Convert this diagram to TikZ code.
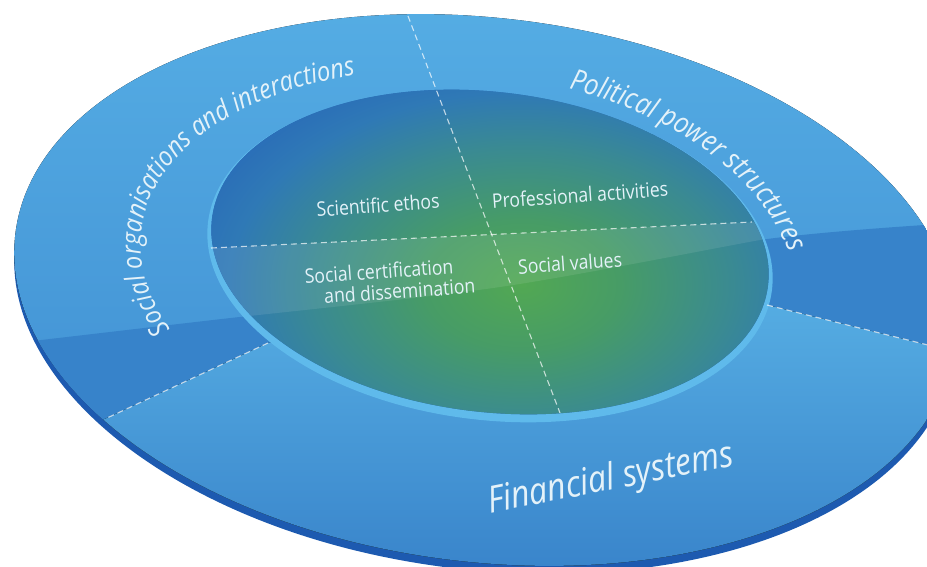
\documentclass[tikz,border=0pt]{standalone}
\usepackage{fontspec}
\setmainfont[FakeStretch=0.88]{Open Sans}
\usetikzlibrary{decorations.text}
\definecolor{rimblue}{HTML}{1D5AB0}
\definecolor{ringtop}{HTML}{55ADE4}
\definecolor{ringbot}{HTML}{3C89CF}
\definecolor{ringdark}{HTML}{3783CA}
\definecolor{fintop}{HTML}{55ACE2}
\definecolor{finbot}{HTML}{3680C8}
\definecolor{lightring}{HTML}{5FBAEB}
\definecolor{discgreen}{HTML}{52A853}
\definecolor{discgreen2}{HTML}{479C66}
\definecolor{discteal}{HTML}{3A8A92}
\definecolor{discblue2}{HTML}{2F79B6}
\definecolor{discblue}{HTML}{2A6DB8}
\definecolor{labeltext}{HTML}{E4F2F9}
\pgfdeclareradialshading{discshade}{\pgfpoint{0bp}{0bp}}{color(0bp)=(discgreen); color(7bp)=(discgreen2); color(15bp)=(discteal); color(21bp)=(discblue2); color(25bp)=(discblue); color(50bp)=(discblue)}
\begin{document}
\begin{tikzpicture}[x=1pt,y=1pt,
  dashline/.style={draw=white, draw opacity=0.7, line width=1.1pt, dash pattern=on 6pt off 4pt},
  innerlabel/.style={text=labeltext, font=\fontsize{20}{21}\selectfont, inner sep=0pt},
  finlabel/.style={text=labeltext, font=\itshape\fontsize{37}{40}\selectfont, inner sep=0pt}]
\clip (0,0) rectangle (927,-566);
\useasboundingbox (0,0) rectangle (927,-566);
% rim of the disc
\fill[rimblue, rotate around={-6.8:(485,-298)}] (485,-298) ellipse [x radius=473, y radius=272];
% outer ring surface
\begin{scope}
  \clip[rotate around={-6.8:(485,-290)}] (485,-290) ellipse [x radius=473, y radius=272];
  \fill[top color=ringtop, bottom color=ringbot] (0,0) rectangle (927,-566);
  \fill[ringdark] plot[smooth] coordinates {(-10,-346) (213,-320) (500,-287) (760,-240) (940,-224)} -- (940,-600) -- (-10,-600) -- cycle;
  \fill[top color=fintop, bottom color=finbot] (268,-343) -- (-50,-491) -- (-50,-600) -- (1000,-600) -- (1000,-363) -- (767,-305) -- cycle;
\end{scope}
% light wall round the inner disc
\fill[lightring, rotate around={-6.8:(490,-256)}] (490,-256) ellipse [x radius=284, y radius=164];
% inner disc
\begin{scope}
  \clip[rotate around={-6.8:(490,-252)}] (490,-252) ellipse [x radius=280, y radius=160];
  \fill[discblue] (200,-80) rectangle (780,-430);
  \shade[shading=discshade] (522,-285) ellipse [x radius=350, y radius=230];
  \fill[white, opacity=0.09] (150,-251) -- (800,-220) -- plot[smooth] coordinates {(800,-234) (760,-240) (500,-287) (213,-320) (150,-328)} -- cycle;
\end{scope}
% dividers
\coordinate (vtop) at (408,-16);
\coordinate (vbot) at (560,-413);
\coordinate (hl) at (211,-248);
\coordinate (hr) at (752,-222);
\coordinate (bl1) at (268,-343);
\coordinate (bl2) at (107,-418);
\coordinate (br1) at (767,-305);
\coordinate (br2) at (940,-348);
\draw[dashline] (vtop) -- (vbot);
\draw[dashline] (hl) -- (hr);
\draw[dashline] (bl1) -- (bl2);
\draw[dashline] (br1) -- (br2);
% inner labels
\node[innerlabel, rotate=4] (sci) at (378,-205) {Scientific ethos};
\node[innerlabel, rotate=4] (prof) at (580,-195) {Professional activities};
\node[innerlabel, rotate=4, align=left] (cert) at (390,-281) {Social certification\\\hspace*{0.9em}and dissemination};
\node[innerlabel, rotate=4] (val) at (570,-263) {Social values};
% ring labels
\node[finlabel, rotate=11] (fin) at (611,-480) {Financial systems};
\begin{scope}[rotate around={-6.8:(487,-272)}]
  \path (487,-272) ++(208:348 and 200.7) coordinate (soc0);
  \path[decorate, decoration={text along path, text color=labeltext, text align=left,
    text={|\itshape\fontsize{27}{30}\selectfont|Social organisations and interactions}}]
    (soc0) arc[start angle=208, end angle=70, x radius=348, y radius=200.7];
\end{scope}
\begin{scope}[rotate around={-6.8:(480,-275)}]
  \path (480,-275) ++(78:318 and 200) coordinate (pol0);
  \path[decorate, decoration={text along path, text color=labeltext, text align=left,
    text={|\itshape\fontsize{29}{32}\selectfont|Political power structures}}]
    (pol0) arc[start angle=78, end angle=-40, x radius=318, y radius=200];
\end{scope}
\end{tikzpicture}
\end{document}
